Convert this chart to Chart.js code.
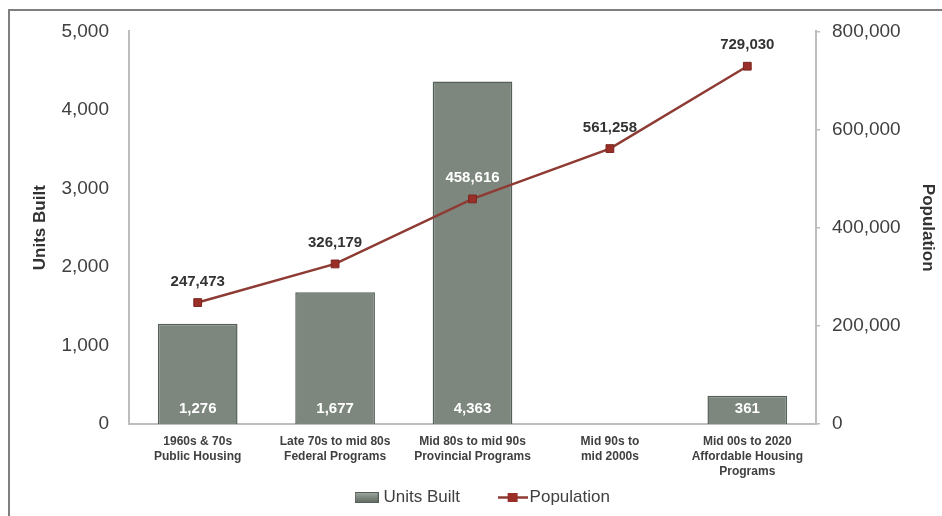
<!DOCTYPE html>
<html>
<head>
<meta charset="utf-8">
<script src="https://cdn.jsdelivr.net/npm/chart.js@4.4.0/dist/chart.umd.min.js"></script>
<style>
  html, body { margin: 0; padding: 0; background: #fff; }
  #wrap { position: relative; width: 942px; height: 516px; overflow: hidden; }
  #frame { position: absolute; left: 8px; top: 9px; width: 960px; height: 540px; border: 2px solid #7f7f7f; box-sizing: border-box; }
  canvas { position: absolute; left: 0; top: 0; }
</style>
</head>
<body>
<div id="wrap">
  <div id="frame"></div>
  <canvas id="chart" width="942" height="516"></canvas>
</div>
<script>
const categories = [
  ['1960s & 70s', 'Public Housing'],
  ['Late 70s to mid 80s', 'Federal Programs'],
  ['Mid 80s to mid 90s', 'Provincial Programs'],
  ['Mid 90s to', 'mid 2000s'],
  ['Mid 00s to 2020', 'Affordable Housing', 'Programs']
];
const unitsBuilt = [1276, 1677, 4363, null, 361];
const population = [247473, 326179, 458616, 561258, 729030];
const unitsTicks = [0, 1000, 2000, 3000, 4000, 5000];
const popTicks = [0, 200000, 400000, 600000, 800000];

const barColor = '#7d877e';
const barEdge = '#56605a';
const lineColor = '#8e3b34';
const markColor = '#9a2f28';
const textColor = '#404040';
const font = '"Liberation Sans", Arial, sans-serif';

function fmt(v) { return v.toLocaleString('en-US'); }

// legend icons
function barIcon() {
  const c = document.createElement('canvas');
  c.width = 24; c.height = 11;
  const g = c.getContext('2d');
  const gr = g.createLinearGradient(0, 0, 0, 11);
  gr.addColorStop(0, '#a3aca4'); gr.addColorStop(0.5, '#7d877e'); gr.addColorStop(1, '#5f6960');
  g.fillStyle = gr; g.fillRect(0, 0, 24, 11);
  g.strokeStyle = barEdge; g.strokeRect(0.5, 0.5, 23, 10);
  return c;
}
function lineIcon() {
  const c = document.createElement('canvas');
  c.width = 30; c.height = 11;
  const g = c.getContext('2d');
  g.strokeStyle = lineColor; g.lineWidth = 2.5;
  g.beginPath(); g.moveTo(0, 5.5); g.lineTo(30, 5.5); g.stroke();
  g.fillStyle = markColor; g.fillRect(10, 1, 10, 9);
  return c;
}

// bevel-ish gradient for the bars
function barFill(context) {
  const chart = context.chart;
  const area = chart.chartArea;
  if (!area) return barColor;
  const el = context.element;
  if (!el || el.width == null) return barColor;
  const gr = chart.ctx.createLinearGradient(el.x - el.width / 2, 0, el.x + el.width / 2, 0);
  gr.addColorStop(0, '#6a746b');
  gr.addColorStop(0.08, '#818b82');
  gr.addColorStop(0.92, '#7f8980');
  gr.addColorStop(1, '#5d675e');
  return gr;
}

const labelPlugin = {
  id: 'valueLabels',
  afterDatasetsDraw(chart) {
    const ctx = chart.ctx;
    ctx.save();
    ctx.textAlign = 'center';
    ctx.textBaseline = 'middle';
    ctx.font = 'bold 15px ' + font;
    const barMeta = chart.getDatasetMeta(1);
    const yU = chart.scales.yUnits;
    barMeta.data.forEach((el, i) => {
      if (unitsBuilt[i] == null) return;
      ctx.fillStyle = '#ffffff';
      ctx.fillText(fmt(unitsBuilt[i]), el.x, yU.getPixelForValue(0) - 15);
    });
    const lineMeta = chart.getDatasetMeta(0);
    lineMeta.data.forEach((el, i) => {
      const onBar = unitsBuilt[i] != null && yU.getPixelForValue(unitsBuilt[i]) < el.y - 20;
      ctx.fillStyle = onBar ? '#ffffff' : '#333333';
      ctx.fillText(fmt(population[i]), el.x, el.y - 21);
    });
    ctx.restore();
  }
};

new Chart(document.getElementById('chart').getContext('2d'), {
  data: {
    labels: categories,
    datasets: [
      {
        type: 'line',
        label: 'Population',
        data: population,
        yAxisID: 'yPop',
        borderColor: lineColor,
        borderWidth: 2.5,
        pointStyle: 'rect',
        pointRadius: 5.5,
        pointBackgroundColor: markColor,
        pointBorderColor: '#7a2520',
        pointBorderWidth: 1,
        tension: 0,
        order: 0
      },
      {
        type: 'bar',
        label: 'Units Built',
        data: unitsBuilt,
        yAxisID: 'yUnits',
        backgroundColor: barFill,
        borderColor: barEdge,
        borderWidth: 1.5,
        categoryPercentage: 1,
        barPercentage: 0.58,
        order: 1
      }
    ]
  },
  options: {
    responsive: false,
    animation: false,
    layout: { padding: { left: 30, right: 4, top: 20, bottom: 0 } },
    plugins: {
      tooltip: { enabled: false },
      legend: {
        position: 'bottom',
        reverse: true,
        labels: {
          color: textColor,
          font: { size: 17, family: font },
          usePointStyle: true,
          padding: 10,
          boxHeight: 11,
          generateLabels(chart) {
            return chart.data.datasets.map((ds, i) => ({
              text: ds.type === 'bar' ? ds.label + '\u2003\u2003' : ds.label,
              pointStyle: ds.type === 'bar' ? barIcon() : lineIcon(),
              fontColor: textColor,
              lineWidth: 0,
              datasetIndex: i,
              hidden: false
            }));
          }
        }
      }
    },
    scales: {
      x: {
        grid: { display: false, drawTicks: false },
        border: { color: '#bdbdbd', width: 2 },
        ticks: {
          color: textColor,
          font: { size: 12, weight: 'bold', family: font, lineHeight: 1.25 },
          maxRotation: 0,
          autoSkip: false,
          padding: 10
        },
        afterFit(s) { s.height = 55; }
      },
      yUnits: {
        position: 'left',
        min: 0, max: 5000,
        afterBuildTicks(s) { s.ticks = unitsTicks.map(v => ({ value: v })); },
        grid: { display: false, drawTicks: false },
        border: { color: '#bdbdbd', width: 2 },
        ticks: {
          color: textColor,
          font: { size: 19, family: font },
          padding: 20,
          callback: v => fmt(v)
        },
        title: {
          display: true,
          text: 'Units Built',
          color: '#333333',
          font: { size: 17, weight: 'bold', family: font },
          padding: 0
        },
        afterFit(s) { s.width = 99; }
      },
      yPop: {
        position: 'right',
        min: 0, max: 800000,
        afterBuildTicks(s) { s.ticks = popTicks.map(v => ({ value: v })); },
        grid: { display: true, drawOnChartArea: false, drawTicks: true, tickLength: 4, color: '#bdbdbd', lineWidth: 1.5 },
        border: { color: '#bdbdbd', width: 2 },
        ticks: {
          color: textColor,
          font: { size: 19, family: font },
          padding: 12,
          callback: v => fmt(v)
        },
        title: {
          display: true,
          text: 'Population',
          color: '#333333',
          font: { size: 17, weight: 'bold', family: font },
          padding: 0
        },
        afterFit(s) { s.width = 122; }
      }
    }
  },
  plugins: [labelPlugin]
});
</script>
</body>
</html>
